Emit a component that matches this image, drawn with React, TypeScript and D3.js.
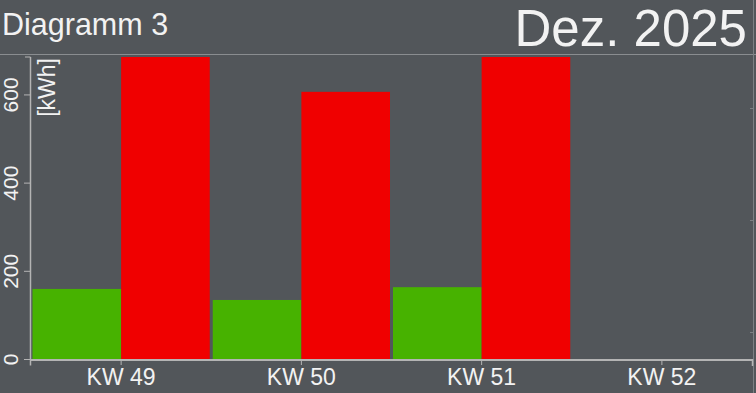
import React from "react";
import * as d3 from "d3";

const categories = ["KW 49", "KW 50", "KW 51", "KW 52"];
const greenValues = [160, 135, 164, 0];
const redValues = [686, 607, 686, 0];
const yTicks = [0, 200, 400, 600];
const yMax = 686;
const title = "Diagramm 3";
const period = "Dez. 2025";
const unit = "[kWh]";
const rightTicksY = [108, 220, 332];

const W = 756;
const H = 393;
const font = "'Liberation Sans', Arial, sans-serif";

export default function App() {
  const x = d3.scaleBand<string>().domain(categories).range([31, 752]).padding(0);
  const bw = x.bandwidth();
  const sub = d3.scaleBand<string>().domain(["g", "r"]).range([1.5, bw - 1.5]).padding(0);
  const y = d3.scaleLinear().domain([0, yMax]).range([359.5, 57]);
  const axisColor = "#b4b4b4";
  const txt = "#f2f2f2";

  return (
    <svg width={W} height={H} style={{ position: "absolute", left: 0, top: 0, display: "block" }}>
      <rect x={0} y={0} width={W} height={H} fill="#52565a" />
      <line x1={0} x2={W} y1={54.5} y2={54.5} stroke="#8a8d90" strokeWidth={1} />
      <line x1={753.5} x2={753.5} y1={0} y2={H} stroke="#7c8083" strokeWidth={1} />
      {rightTicksY.map((t) => (
        <line key={t} x1={750} x2={753.5} y1={t + 0.5} y2={t + 0.5} stroke="#7c8083" strokeWidth={1} />
      ))}
      <text x={2} y={35} fontFamily={font} fontSize={30.5} fill={txt}>{title}</text>
      <text x={747} y={46} fontFamily={font} fontSize={51} fill={txt} textAnchor="end">{period}</text>

      {categories.map((c, i) => (
        <g key={c} transform={`translate(${x(c)},0)`}>
          {greenValues[i] > 0 && (
            <rect x={sub("g")} y={y(greenValues[i])} width={sub.bandwidth()} height={y(0) - y(greenValues[i])} fill="#47b200" />
          )}
          {redValues[i] > 0 && (
            <rect x={sub("r")} y={y(redValues[i])} width={sub.bandwidth()} height={y(0) - y(redValues[i])} fill="#f00000" />
          )}
        </g>
      ))}

      <line x1={30.5} x2={30.5} y1={y(yMax)} y2={y(0)} stroke={axisColor} strokeWidth={1.5} />
      <line x1={25} x2={30.5} y1={y(yMax)} y2={y(yMax)} stroke={axisColor} strokeWidth={1} />
      {yTicks.map((t) => (
        <g key={t}>
          <line x1={24} x2={30.5} y1={y(t)} y2={y(t)} stroke={axisColor} strokeWidth={1} />
          <text
            transform={`translate(17.5,${y(t)}) rotate(-90)`}
            textAnchor="middle"
            fontFamily={font}
            fontSize={21}
            fill={txt}
          >
            {t}
          </text>
        </g>
      ))}
      <text
        transform={`translate(54.5,58) rotate(-90)`}
        textAnchor="end"
        fontFamily={font}
        fontSize={23}
        fill={txt}
      >
        {unit}
      </text>

      <line x1={30} x2={753} y1={360} y2={360} stroke={axisColor} strokeWidth={2} />
      <line x1={30.5} x2={30.5} y1={359} y2={365.5} stroke={axisColor} strokeWidth={1.5} />
      <line x1={752.5} x2={752.5} y1={359} y2={366} stroke={axisColor} strokeWidth={1.5} />
      {categories.map((c) => {
        const cx = (x(c) ?? 0) + bw / 2;
        return (
          <g key={c}>
            <line x1={cx} x2={cx} y1={360} y2={365} stroke={axisColor} strokeWidth={1} />
            <text x={cx} y={384.5} textAnchor="middle" fontFamily={font} fontSize={23} fill={txt}>{c}</text>
          </g>
        );
      })}
    </svg>
  );
}
